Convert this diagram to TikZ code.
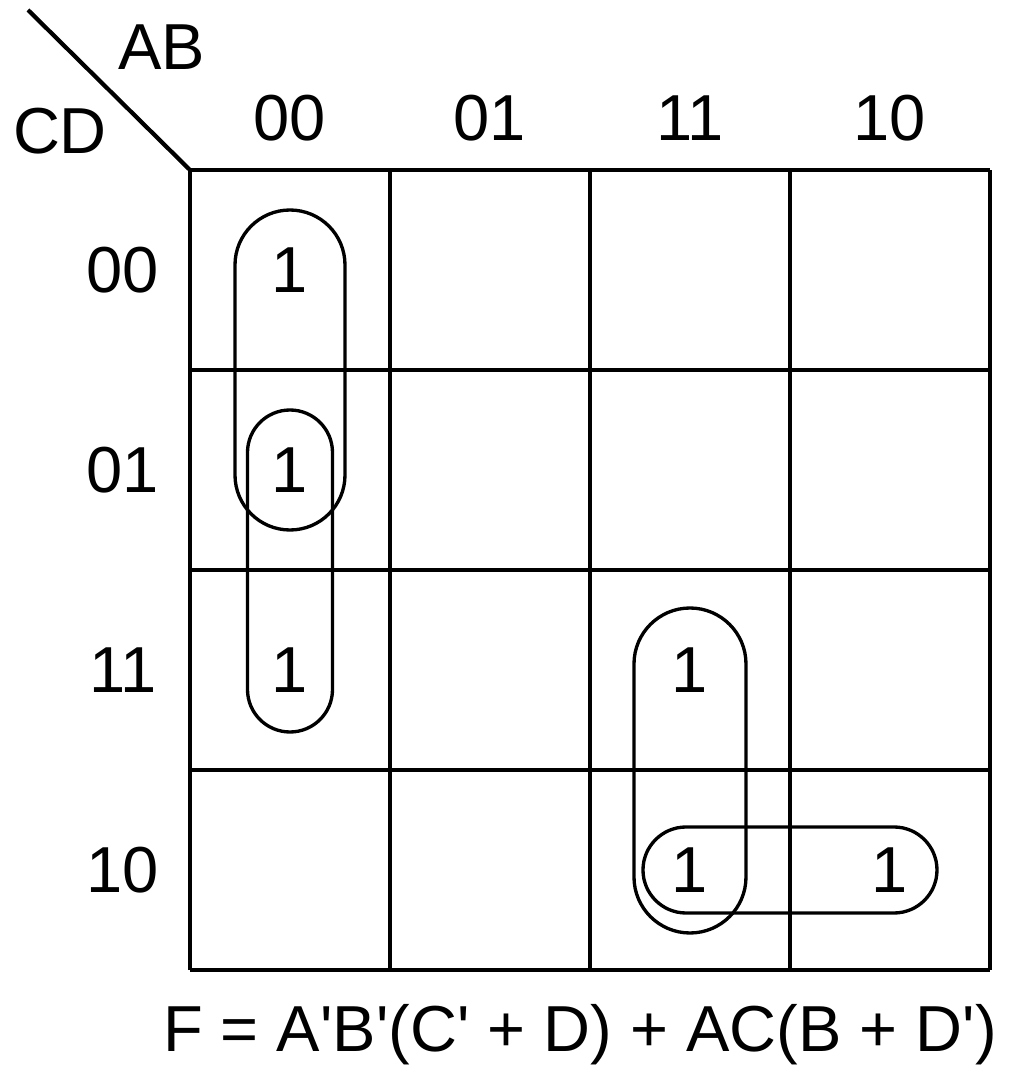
\documentclass[tikz,border=0pt]{standalone}
\usepackage{fontspec}
\setmainfont{Liberation Sans}
\usetikzlibrary{positioning, calc}
\newcommand{\kq}{\textquotesingle}

\begin{document}
\begin{tikzpicture}[
  kgrid/.style={line width=1.2pt},
  kloop/.style={line width=0.95pt},
  font=\fontsize{18.5}{22}\selectfont]
  \useasboundingbox (-1.9,-1.03) rectangle (8.23,9.70);
  % map frame and cells
  \draw[kgrid, step=2] (0,0) grid (8,8);
  \coordinate (corner) at (0,8);
  \coordinate (tip) at (-1.62,9.6);
  \draw[kgrid] (tip) -- (corner);
  \node (ab) at (-0.28,9.23) {AB};
  \node (cd) at (-1.30,8.39) {CD};
  \foreach \lab [count=\i from 0] in {00,01,11,10} {
    \node (ab\lab) at (1+2*\i, 8.52) {\lab};
    \node (cd\lab) at (-0.67, 7-2*\i) {\lab};
  }
  % minterms
  \node (m0) at (1,7) {1};
  \node (m1) at (1,5) {1};
  \node (m3) at (1,3) {1};
  \node (m15) at (5,3) {1};
  \node (m14) at (5,1) {1};
  \node (m10) at (7,1) {1};
  % groups
  \draw[kloop, rounded corners=0.55cm] ($(m0)+(-0.55,0.6)$) rectangle ($(m1)+(0.55,-0.6)$);
  \draw[kloop, rounded corners=0.425cm] ($(m1)+(-0.425,0.6)$) rectangle ($(m3)+(0.425,-0.62)$);
  \draw[kloop, rounded corners=0.56cm] ($(m15)+(-0.56,0.62)$) rectangle ($(m14)+(0.56,-0.63)$);
  \draw[kloop, rounded corners=0.43cm] ($(m14)+(-0.47,0.43)$) rectangle ($(m10)+(0.47,-0.43)$);
  \node (expr) at (3.9,-0.65) {F = A\kq B\kq(C\kq{} + D) + AC(B + D\kq)};
\end{tikzpicture}
\end{document}
